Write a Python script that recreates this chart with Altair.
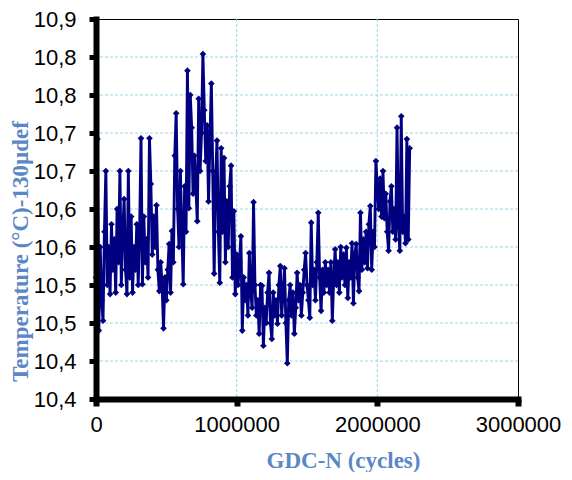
import altair as alt
import pandas as pd

# Cycle counts (thousands of cycles)
cycles_k = [
    0, 10, 20, 30, 40, 50, 60, 70, 80, 90,
    100, 110, 120, 130, 140, 150, 160, 170, 180, 190,
    200, 210, 220, 230, 240, 250, 260, 270, 280, 290,
    300, 310, 320, 330, 340, 350, 360, 370, 380, 390,
    400, 410, 420, 430, 440, 450, 460, 470, 480, 490,
    500, 510, 520, 530, 540, 550, 560, 570, 580, 590,
    600, 610, 620, 630, 640, 650, 660, 670, 680, 690,
    700, 710, 720, 730, 740, 750, 760, 770, 780, 790,
    800, 810, 820, 830, 840, 850, 860, 870, 880, 890,
    900, 910, 920, 930, 940, 950, 960, 970, 980, 990,
    1000, 1010, 1020, 1030, 1040, 1050, 1060, 1070, 1080, 1090,
    1100, 1110, 1120, 1130, 1140, 1150, 1160, 1170, 1180, 1190,
    1200, 1210, 1220, 1230, 1240, 1250, 1260, 1270, 1280, 1290,
    1300, 1310, 1320, 1330, 1340, 1350, 1360, 1370, 1380, 1390,
    1400, 1410, 1420, 1430, 1440, 1450, 1460, 1470, 1480, 1490,
    1500, 1510, 1520, 1530, 1540, 1550, 1560, 1570, 1580, 1590,
    1600, 1610, 1620, 1630, 1640, 1650, 1660, 1670, 1680, 1690,
    1700, 1710, 1720, 1730, 1740, 1750, 1760, 1770, 1780, 1790,
    1800, 1810, 1820, 1830, 1840, 1850, 1860, 1870, 1880, 1890,
    1900, 1910, 1920, 1930, 1940, 1950, 1960, 1970, 1980, 1990,
    2000, 2010, 2020, 2030, 2040, 2050, 2060, 2070, 2080, 2090,
    2100, 2110, 2120, 2130, 2140, 2150, 2160, 2170, 2180, 2190,
    2200, 2210, 2220, 2230,
]

temps = [
    10.56, 10.742, 10.49, 10.60, 10.53, 10.503, 10.62, 10.70, 10.55, 10.60,
    10.538, 10.63, 10.57, 10.61, 10.54, 10.65, 10.58, 10.70, 10.55, 10.62,
    10.663, 10.57, 10.538, 10.70, 10.56, 10.64, 10.54, 10.60, 10.57, 10.63,
    10.55, 10.62, 10.743, 10.551, 10.64, 10.58, 10.61, 10.56, 10.743, 10.683,
    10.59, 10.64, 10.60, 10.655, 10.57, 10.542, 10.58, 10.55, 10.493, 10.56,
    10.53, 10.57, 10.604, 10.54, 10.621, 10.58, 10.72, 10.776, 10.65, 10.60,
    10.70, 10.62, 10.551, 10.68, 10.62, 10.832, 10.651, 10.80, 10.757, 10.67,
    10.72, 10.68, 10.634, 10.795, 10.70, 10.75, 10.854, 10.78, 10.713, 10.76,
    10.66, 10.74, 10.815, 10.70, 10.565, 10.687, 10.74, 10.62, 10.553, 10.73,
    10.62, 10.717, 10.58, 10.66, 10.60, 10.68, 10.707, 10.56, 10.647, 10.538,
    10.59, 10.55, 10.58, 10.614, 10.49, 10.56, 10.53, 10.55, 10.51, 10.592,
    10.54, 10.52, 10.659, 10.55, 10.51, 10.53, 10.486, 10.55, 10.549, 10.47,
    10.52, 10.50, 10.54, 10.566, 10.50, 10.479, 10.54, 10.51, 10.53, 10.499,
    10.55, 10.575, 10.51, 10.54, 10.572, 10.50, 10.447, 10.53, 10.55, 10.51,
    10.54, 10.486, 10.52, 10.566, 10.53, 10.55, 10.51, 10.54, 10.57, 10.592,
    10.55, 10.53, 10.507, 10.632, 10.55, 10.57, 10.53, 10.58, 10.645, 10.56,
    10.516, 10.57, 10.54, 10.58, 10.55, 10.57, 10.54, 10.58, 10.503, 10.56,
    10.597, 10.55, 10.58, 10.54, 10.60, 10.56, 10.59, 10.55, 10.599, 10.533,
    10.58, 10.56, 10.605, 10.526, 10.59, 10.604, 10.56, 10.542, 10.645, 10.57,
    10.61, 10.58, 10.62, 10.572, 10.63, 10.654, 10.57, 10.62, 10.60, 10.713,
    10.678, 10.65, 10.69, 10.64, 10.70, 10.638, 10.67, 10.62, 10.595, 10.66,
    10.68, 10.62, 10.65, 10.61, 10.757, 10.63, 10.595, 10.772, 10.62, 10.64,
    10.605, 10.742, 10.61, 10.73,
]

x_ticks = [0, 1000000, 2000000, 3000000]
y_ticks = [10.40, 10.45, 10.50, 10.55, 10.60, 10.65, 10.70, 10.75, 10.80, 10.85, 10.90]
x_grid = [1000000, 2000000]
y_grid = [10.45, 10.50, 10.55, 10.60, 10.65, 10.70, 10.75, 10.80, 10.85]

df = pd.DataFrame({"N": [c * 1000 for c in cycles_k], "T": temps})

navy = "#000080"
title_blue = "#5B87C6"
grid_blue = "#9FD4E6"

x_scale = alt.Scale(domain=[0, 3000000], nice=False, zero=False)
y_scale = alt.Scale(domain=[10.4, 10.9], nice=False, zero=False)

x_enc = alt.X(
    "N:Q",
    scale=x_scale,
    axis=alt.Axis(
        values=x_ticks,
        format="d",
        title="GDC-N (cycles)",
        titleFont="Liberation Serif",
        titleFontSize=23,
        titleFontWeight="bold",
        titleColor=title_blue,
        titleX=247,
        titleY=50,
        titleBaseline="top",
        labelFont="Liberation Sans",
        labelFontSize=22,
        labelColor="black",
        labelPadding=8,
        labelFlush=False,
        tickColor="black",
        tickWidth=6,
        tickSize=7,
        domainColor="black",
        domainWidth=6,
        domainCap="square",
        grid=False,
        zindex=1,
    ),
)

y_enc = alt.Y(
    "T:Q",
    scale=y_scale,
    axis=alt.Axis(
        values=y_ticks,
        labelExpr="replace(format(floor(datum.value*10+0.001)/10, '.1f'), '.', ',')",
        title="Temperature  (°C)-130µdef",
        titleFont="Liberation Serif",
        titleFontSize=23,
        titleFontWeight="bold",
        titleColor=title_blue,
        titleX=-64,
        titleY=232,
        titleAngle=270,
        titleBaseline="bottom",
        labelFont="Liberation Sans",
        labelFontSize=22,
        labelColor="black",
        labelPadding=13,
        labelFlush=False,
        tickColor="black",
        tickWidth=5,
        tickSize=7,
        domainColor="black",
        domainWidth=6,
        domainCap="square",
        grid=False,
        zindex=1,
    ),
)

hgrid = (
    alt.Chart(pd.DataFrame({"T": y_grid}))
    .mark_rule(color=grid_blue, strokeWidth=1, strokeDash=[3, 2])
    .encode(y=alt.Y("T:Q", scale=y_scale, axis=None))
)
vgrid = (
    alt.Chart(pd.DataFrame({"N": x_grid}))
    .mark_rule(color=grid_blue, strokeWidth=1, strokeDash=[3, 2])
    .encode(x=alt.X("N:Q", scale=x_scale, axis=None))
)

series = (
    alt.Chart(df)
    .mark_line(
        color=navy,
        strokeWidth=2.9,
        point=alt.OverlayMarkDef(shape="diamond", filled=True, color=navy, size=44, opacity=1),
    )
    .encode(x=x_enc, y=y_enc)
)

chart = (
    alt.layer(hgrid, vgrid, series)
    .resolve_axis(x="independent", y="independent")
    .properties(
        width=422,
        height=380,
        autosize=alt.AutoSizeParams(type="none"),
        padding={"left": 88, "top": 11, "right": 46, "bottom": 73},
    )
    .configure_view(stroke="black", strokeWidth=1)
)

chart.save("out.html", embed_options={"renderer": "svg", "actions": False})
